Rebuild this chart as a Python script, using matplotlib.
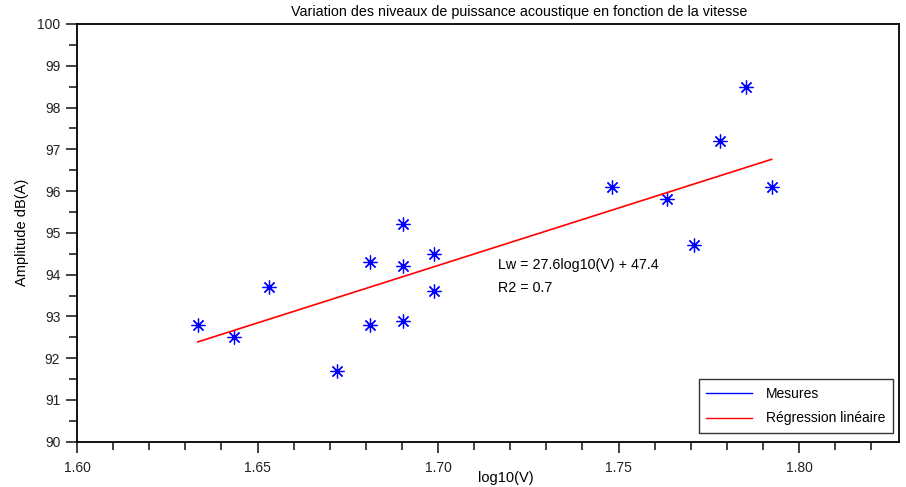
import matplotlib
matplotlib.use("Agg")
import matplotlib.pyplot as plt
from matplotlib.lines import Line2D
from matplotlib.ticker import MultipleLocator

plt.rcParams['font.family'] = ['Liberation Sans', 'DejaVu Sans']

# mesures : log10(V) et niveau de puissance
log_v = [1.6335, 1.6435, 1.6532, 1.6721, 1.6812, 1.6812, 1.6902, 1.6902, 1.6902,
         1.6990, 1.6990, 1.7482, 1.7634, 1.7709, 1.7782, 1.7853, 1.7924]
lw = [92.8, 92.5, 93.7, 91.7, 92.8, 94.3, 92.9, 94.2, 95.2,
      94.5, 93.6, 96.1, 95.8, 94.7, 97.2, 98.5, 96.1]

# droite de regression (extremites)
reg_x = [1.6335, 1.7924]
reg_y = [92.39, 96.76]

eq_text = "Lw = 27.6log10(V) + 47.4"
r2_text = "R2 = 0.7"

fig = plt.figure(figsize=(9.06, 4.87), dpi=100)
ax = fig.add_axes([77/906, 1-441.7/487, (899-77)/906, (441.7-24)/487])

ax.plot(log_v, lw, linestyle='none', marker=(8, 2, 0), markersize=10,
        markeredgewidth=0.9, color='blue')
ax.plot(log_v, lw, linestyle='none', marker='o', markersize=2, color='blue')
ax.plot(reg_x, reg_y, color='red', linewidth=1.2)

ax.text(1.7166, 94.23, eq_text, fontsize=10.3, va='center', ha='left')
ax.text(1.7166, 93.68, r2_text, fontsize=10.3, va='center', ha='left')

ax.set_xlim(1.60, 1.8277)
ax.set_ylim(90, 100)
ax.xaxis.set_major_locator(MultipleLocator(0.05))
ax.xaxis.set_minor_locator(MultipleLocator(0.01))
ax.yaxis.set_major_locator(MultipleLocator(1))
ax.yaxis.set_minor_locator(MultipleLocator(0.5))
ax.xaxis.set_major_formatter(plt.FormatStrFormatter('%.2f'))
ax.tick_params(which='major', length=8, width=1.2, labelsize=10, direction='out', colors='#222222')
ax.tick_params(which='minor', length=6, width=1.2, direction='out', colors='#222222')
ax.tick_params(axis='x', pad=6)
ax.tick_params(axis='y', pad=4)
for s in ax.spines.values():
    s.set_linewidth(1.3)

fig.text(519/906, 1-12/487, "Variation des niveaux de puissance acoustique en fonction de la vitesse",
         ha='center', va='center', fontsize=10.3)
fig.text(506/906, 1-478/487, "log10(V)", ha='center', va='center', fontsize=10.5)
fig.text(22/906, 1-232/487, "Amplitude dB(A)", ha='center', va='center', fontsize=10.5, rotation=90)

handles = [Line2D([], [], color='blue', linewidth=1), Line2D([], [], color='red', linewidth=1)]
leg = ax.legend(handles, ["Mesures", "Régression linéaire"], loc='lower right',
                bbox_to_anchor=(893/906, 1-433/487), bbox_transform=fig.transFigure,
                fancybox=False, edgecolor='black', fontsize=10, handlelength=3.3,
                borderaxespad=0, borderpad=0.55, labelspacing=0.75, handletextpad=1.0)
leg.get_frame().set_linewidth(1.0)

fig.savefig("out.png", dpi=100)
